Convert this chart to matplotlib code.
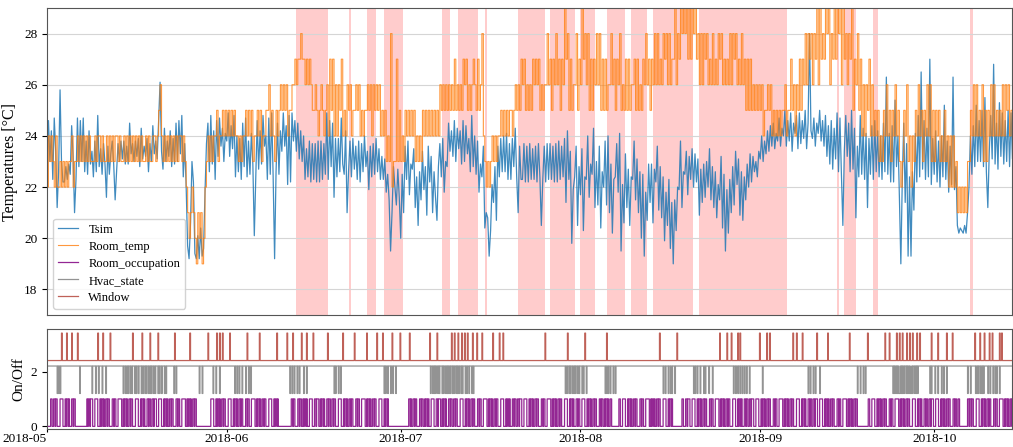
import numpy as np
import pandas as pd
import matplotlib
matplotlib.use("Agg")
import matplotlib.pyplot as plt
import matplotlib.dates as mdates

# simulated temperature, 4 readings per day (00h, 06h, 12h, 18h)
tsim_may = [
    22.8, 24.6, 23.0, 24.2, 22.3, 24.7, 23.4, 21.2, 22.6, 25.8, 23.0, 22.2, 22.2, 22.8, 22.3, 22.9,
    22.5, 24.4, 23.2, 21.0, 22.3, 24.7, 22.8, 24.6, 23.0, 24.7, 22.6, 23.8, 22.5, 24.2, 22.9, 23.4,
    22.4, 23.8, 22.6, 24.8, 22.8, 23.5, 22.5, 23.7, 22.9, 21.6, 23.6, 22.5, 23.3, 23.8, 22.9, 21.5,
    22.6, 23.7, 23.0, 23.8, 23.1, 23.8, 22.9, 23.6, 22.9, 24.5, 23.3, 23.7, 23.0, 23.8, 23.2, 23.9,
    22.8, 24.3, 23.1, 23.6, 23.2, 23.9, 22.6, 23.7, 23.0, 24.4, 23.3, 23.8, 23.1, 24.6, 26.1, 23.4,
    22.7, 24.3, 23.0, 23.8, 23.2, 24.2, 22.8, 23.9, 22.9, 24.5, 23.0, 24.6, 23.3, 24.8, 22.4, 23.7,
    22.0, 19.7, 19.2, 20.6, 23.0, 22.2, 19.4, 19.2, 20.1, 19.2, 20.4, 19.3, 19.6, 21.8, 23.7, 24.5,
    22.6, 24.8, 22.9, 24.2, 22.3, 24.6, 23.2, 24.7, 23.6, 24.3, 23.0, 24.1,
]
tsim_jun = [
    23.8, 24.9, 23.2, 24.4, 23.5, 24.8, 22.4, 24.0, 22.6, 23.9, 22.3, 24.5, 22.8, 24.7, 22.4, 23.8,
    22.5, 24.1, 22.9, 20.1, 22.4, 24.6, 22.7, 24.2, 22.9, 24.8, 23.6, 24.0, 22.3, 24.7, 22.5, 24.9,
    22.4, 19.2, 22.6, 24.5, 22.5, 24.2, 23.4, 24.9, 23.6, 24.4, 22.1, 24.8, 22.2, 24.9, 23.8, 24.6,
    23.4, 24.5, 23.1, 24.2, 23.0, 24.0, 22.3, 23.5, 22.4, 23.8, 22.2, 23.7, 22.3, 23.7, 22.2, 23.8,
    22.2, 23.8, 22.3, 23.7, 22.5, 24.9, 22.3, 24.6, 22.8, 24.5, 21.6, 23.9, 22.4, 23.9, 22.6, 24.7,
    22.9, 22.5, 24.2, 21.0, 22.6, 23.8, 22.4, 23.9, 22.7, 23.6, 22.3, 23.8, 22.2, 23.7, 22.6, 24.0,
    22.8, 23.4, 21.9, 23.6, 22.4, 23.7, 22.5, 23.9, 22.6, 23.5, 22.3, 23.2, 22.3, 23.1, 21.8, 22.5,
    21.5, 19.5, 21.0, 22.8, 22.0, 21.3, 22.7, 21.6,
]
tsim_jul = [
    20.0, 22.5, 21.0, 23.6, 22.3, 23.8, 21.7, 22.9, 22.7, 23.5, 21.2, 22.4, 20.5, 22.6, 21.5, 23.4,
    21.9, 22.8, 20.9, 23.6, 22.2, 23.2, 21.0, 22.6, 21.6, 20.7, 22.8, 23.7, 22.4, 23.9, 21.8, 23.0,
    22.8, 24.5, 23.4, 24.2, 23.2, 24.6, 23.0, 24.3, 23.5, 24.2, 22.9, 24.6, 23.0, 24.4, 23.3, 23.9,
    22.6, 24.8, 22.8, 24.0, 22.5, 23.8, 21.8, 22.9, 22.4, 23.6, 20.4, 21.0, 20.8, 19.3, 20.3, 22.1,
    21.4, 22.8, 20.7, 23.6, 22.4, 23.9, 22.6, 24.0, 22.6, 24.1, 22.3, 23.7, 22.3, 23.9, 22.8, 24.3,
    22.4, 21.0, 23.6, 22.3, 22.3, 23.7, 22.2, 23.6, 22.2, 23.7, 22.3, 23.5, 22.3, 23.6, 22.2, 23.7,
    22.4, 20.5, 22.3, 23.6, 22.2, 23.7, 22.3, 23.7, 22.3, 23.6, 22.2, 23.7, 22.2, 23.8, 22.3, 23.6,
    22.4, 23.9, 21.4, 24.2, 22.3, 23.4, 19.8, 21.9, 22.4, 23.6, 20.5, 22.8,
]
tsim_aug = [
    21.7, 23.5, 20.3, 22.4, 22.3, 24.0, 21.6, 22.9, 22.5, 24.3, 21.2, 23.0, 21.3, 23.6, 20.4, 22.6,
    22.0, 23.8, 21.3, 24.0, 21.0, 22.9, 20.2, 22.3, 22.4, 23.7, 21.8, 24.1, 19.5, 22.1, 20.6, 23.3,
    21.2, 22.7, 20.5, 22.4, 22.3, 23.8, 21.5, 23.1, 21.0, 22.6, 20.0, 22.5, 19.3, 21.8, 20.7, 22.9,
    21.4, 22.9, 20.6, 22.7, 22.2, 23.6, 21.1, 22.8, 20.8, 22.4, 19.9, 21.8, 20.5, 22.3, 19.6, 21.4,
    19.0, 21.5, 20.3, 22.0, 21.9, 23.8, 21.2, 22.6, 22.5, 23.4, 21.7, 23.2, 22.3, 23.5, 22.0, 23.3,
    22.2, 23.1, 20.9, 22.7, 21.4, 22.9, 21.6, 23.0, 22.0, 23.5, 21.5, 22.8, 21.2, 22.6, 20.8, 22.1,
    21.5, 23.2, 20.4, 22.5, 19.5, 21.9, 20.2, 22.3, 21.0, 22.8, 21.3, 23.4, 22.1, 23.1, 20.9, 22.6,
    20.7, 22.4, 21.5, 22.9, 22.0, 23.3, 22.2, 23.2, 22.6, 23.0, 22.4, 23.4,
]
tsim_sep = [
    23.1, 24.0, 23.0, 23.8, 23.3, 24.2, 23.4, 24.4, 23.6, 24.5, 23.5, 24.1, 23.8, 24.7, 23.6, 24.3,
    24.0, 25.0, 23.6, 24.6, 23.8, 24.9, 23.4, 24.5, 24.1, 24.8, 23.5, 24.9, 23.7, 24.6, 23.9, 25.0,
    23.5, 24.5, 28.0, 24.2, 23.9, 24.7, 23.6, 24.5, 24.1, 25.0, 23.8, 24.6, 23.6, 24.8, 23.2, 24.4,
    22.9, 24.6, 22.7, 24.3, 23.1, 24.9, 22.6, 24.7, 22.5, 20.5, 23.4, 24.8, 23.2, 24.5, 22.6, 25.0,
    22.7, 24.3, 20.8, 23.6, 22.4, 24.8, 22.5, 24.3, 22.3, 24.1, 21.2, 23.9, 22.5, 24.4, 22.3, 24.6,
    22.6, 24.2, 22.4, 24.0, 22.3, 24.5, 22.6, 26.3, 22.5, 24.1, 22.2, 24.4, 22.2, 25.4, 22.8, 24.0,
    21.6, 19.0, 22.3, 24.5, 21.4, 23.7, 19.3, 22.4, 19.3, 22.6, 21.1, 24.1, 22.2, 24.8, 22.4, 26.5,
    22.7, 24.6, 22.3, 24.3, 22.4, 27.0, 22.1, 23.9,
]
tsim_oct = [
    22.5, 24.2, 22.2, 23.8, 22.0, 24.0, 22.4, 25.2, 22.3, 23.8, 21.8, 23.6, 22.1, 26.3, 21.9, 22.8,
    20.5, 20.2, 20.4, 20.3, 20.2, 20.5, 20.2, 21.0, 22.0, 24.0, 22.5, 24.4, 22.8, 25.2, 23.0, 24.6,
    23.0, 25.0, 22.8, 25.5, 22.6, 21.2, 23.4, 24.8, 23.1, 26.8, 22.9, 24.5, 22.7, 25.3, 23.2, 24.9,
    22.9, 24.6, 23.0, 25.0, 22.8, 24.9, 23.1, 24.5,
]

# measured room temperature (whole degrees), same 6-hourly grid
room_may = [
    22, 24, 23, 24, 23, 22, 24, 22, 22, 23, 22, 23, 22, 23, 22, 23,
    23, 24, 22, 23, 23, 24, 23, 24, 23, 24, 23, 24, 23, 24, 23, 23,
    23, 24, 23, 24, 24, 23, 24, 23, 23, 24, 23, 24, 23, 24, 23, 24,
    24, 23, 24, 23, 23, 24, 23, 24, 23, 24, 23, 24, 23, 24, 23, 24,
    23, 24, 23, 23, 24, 23, 24, 23, 23, 24, 24, 23, 24, 25, 26, 24,
    23, 24, 23, 24, 23, 24, 23, 24, 23, 24, 23, 24, 24, 23, 24, 23,
    22, 21, 20, 21, 22, 21, 20, 19, 21, 20, 21, 19, 20, 22, 23, 24,
    23, 24, 23, 24, 24, 25, 23, 24, 24, 25, 24, 25,
]
room_jun = [
    24, 25, 24, 25, 24, 25, 24, 24, 23, 24, 23, 24, 24, 25, 24, 25,
    24, 25, 23, 24, 24, 25, 24, 25, 23, 24, 24, 25, 25, 26, 24, 25,
    24, 23, 25, 24, 25, 26, 25, 26, 25, 26, 24, 25, 25, 26, 26, 27,
    26, 27, 27, 28, 27, 27, 26, 27, 26, 27, 26, 25, 25, 26, 25, 24,
    25, 26, 25, 24, 25, 26, 24, 27, 25, 27, 24, 26, 24, 26, 25, 27,
    24, 25, 24, 26, 25, 26, 24, 25, 25, 26, 25, 26, 24, 25, 24, 25,
    25, 26, 25, 26, 24, 26, 25, 26, 25, 26, 24, 25, 24, 25, 23, 24,
    23, 28, 22, 23, 23, 27, 23, 25,
]
room_jul = [
    23, 24, 23, 25, 24, 25, 24, 25, 24, 25, 23, 24, 23, 24, 23, 25,
    24, 25, 24, 25, 24, 25, 24, 25, 24, 25, 24, 26, 25, 26, 25, 26,
    25, 26, 25, 26, 25, 27, 25, 26, 25, 26, 25, 27, 26, 27, 25, 26,
    25, 26, 27, 26, 25, 27, 25, 26, 28, 24, 23, 22, 23, 22, 23, 24,
    23, 24, 23, 24, 24, 25, 24, 25, 24, 25, 24, 25, 25, 24, 25, 26,
    25, 26, 25, 27, 26, 27, 25, 26, 25, 26, 25, 27, 26, 27, 26, 27,
    25, 26, 25, 26, 26, 28, 26, 27, 25, 27, 26, 28, 26, 27, 25, 27,
    26, 29, 27, 28, 25, 27, 25, 26, 26, 28, 25, 27,
]
room_aug = [
    26, 29, 27, 28, 26, 28, 25, 27, 25, 27, 26, 28, 26, 28, 25, 27,
    25, 27, 25, 26, 26, 28, 26, 27, 25, 27, 26, 28, 25, 26, 25, 27,
    25, 27, 25, 26, 26, 27, 25, 27, 25, 26, 25, 27, 26, 28, 26, 27,
    25, 27, 26, 28, 26, 28, 26, 27, 26, 28, 27, 28, 26, 28, 26, 27,
    27, 29, 26, 28, 27, 29, 28, 29, 28, 29, 27, 29, 27, 29, 28, 29,
    27, 28, 26, 28, 26, 28, 27, 28, 26, 27, 26, 28, 26, 27, 26, 28,
    27, 28, 26, 27, 26, 27, 26, 28, 26, 28, 27, 28, 26, 27, 26, 28,
    26, 27, 25, 27, 25, 27, 25, 26, 25, 26, 25, 26,
]
room_sep = [
    25, 26, 24, 25, 25, 26, 25, 26, 24, 25, 24, 25, 24, 25, 24, 25,
    25, 26, 24, 25, 25, 27, 25, 26, 24, 26, 25, 27, 25, 27, 26, 28,
    26, 28, 27, 28, 26, 28, 27, 29, 26, 29, 27, 28, 27, 29, 28, 29,
    26, 28, 27, 29, 27, 29, 28, 29, 26, 29, 27, 28, 26, 28, 27, 29,
    25, 27, 26, 28, 25, 27, 24, 26, 24, 26, 25, 27, 24, 26, 24, 25,
    24, 25, 23, 24, 23, 25, 24, 26, 24, 25, 23, 25, 24, 26, 24, 25,
    23, 22, 23, 25, 24, 26, 23, 24, 22, 24, 23, 25, 24, 26, 24, 25,
    23, 25, 24, 26, 24, 26, 23, 25,
]
room_oct = [
    23, 25, 24, 25, 23, 24, 23, 25, 23, 24, 22, 24, 22, 24, 22, 23,
    21, 22, 21, 22, 21, 22, 21, 23, 23, 25, 24, 26, 24, 26, 24, 25,
    24, 26, 23, 25, 23, 25, 24, 26, 24, 26, 24, 25, 24, 25, 24, 26,
    24, 26, 25, 26, 24, 25, 24, 26,
]

# room occupation, one string per day, one digit per 3 hours
occ_may = ["00000110", "01101100", "00111100", "01011010", "00110110", "00000000", "00000001",
           "01101110", "00111100", "01011010", "01101100", "00110110", "00111110", "01011010",
           "01101100", "00111100", "01011010", "00110110", "01101110", "00111100", "01011010",
           "01101100", "00110110", "00111110", "01011010", "01101100", "00000000", "00000000",
           "00111100", "01011010", "01101100"]
occ_jun = ["00111100", "01011010", "01101100", "00110110", "00111110", "01011010", "01101100",
           "00111100", "01011010", "00000000", "00000000", "01101100", "00110110", "01011010",
           "00111100", "01101110", "01011010", "00110110", "01101100", "00111100", "01011010",
           "01101100", "00110110", "00111110", "01011010", "01101100", "00111100", "01011010",
           "00000000", "00000000"]
occ_jul = ["00000000", "00011010", "01101100", "00110110", "01011010", "00111100", "01101110",
           "01011010", "00110110", "01101100", "00111100", "01011010", "01101100", "00110110",
           "00111110", "01011010", "01101100", "00111100", "01011010", "00110110", "01101110",
           "00111100", "01011010", "01101100", "00110110", "00111110", "01011010", "01101100",
           "00111100", "01011010", "00110110"]
occ_aug = ["00111100", "01011010", "01101100", "00110110", "01011010", "01100000", "00000110",
           "00111100", "01011010", "01101100", "00110110", "00111110", "01011010", "01101100",
           "00111100", "01011010", "00000000", "00001100", "01101110", "00111100", "01011010",
           "01101100", "00110110", "00111110", "01011010", "01101100", "00111100", "01011010",
           "00110110", "01101110", "00111100"]
occ_sep = ["01011010", "01101100", "00110110", "00111110", "01011010", "01101100", "00111100",
           "01011010", "00110110", "01101110", "00111100", "01011010", "01101100", "00110110",
           "00111110", "01011010", "01101100", "00000000", "00000110", "00111100", "01011010",
           "01101100", "00110110", "00111110", "01011010", "01101100", "00111100", "01011010",
           "00110110", "01101110"]
occ_oct = ["00111100", "01011010", "01101100", "00110110", "01100000", "00000011", "01101100",
           "00111100", "01011010", "01101100", "00110110", "00111110", "01011010", "01101100"]

# hvac state, same layout
FULL = "11111111"
hvac_may = [FULL, "11111101", "01011111", FULL, FULL, "11111011", FULL,
            "11111101", "11101110", "11110111", "10111111", FULL, FULL, "10110101",
            "01101011", "10101101", "11010110", "10110101", "01101011", "10101101", "11010111",
            "11111110", "11011111", FULL, FULL, FULL, "11011101", FULL,
            "11111011", "10111101", FULL]
hvac_jun = [FULL, "11101101", "10111011", "11011101", "10111111", FULL, FULL,
            FULL, FULL, FULL, "11111110", "11011011", "10110111", "11011101",
            FULL, FULL, FULL, FULL, "11110101", "11011011", FULL,
            FULL, FULL, FULL, FULL, FULL, FULL, "10101101",
            "11011011", "10111111"]
hvac_jul = ([FULL] * 5 + ["10110101", "01101011", "10101101", "01010110", "10110101",
                           "01101011", "10101101", "11010111"]
            + [FULL] * 15 + ["11101011", "01011010", "10110101"])
hvac_aug = (["11010111", "01111111", FULL, FULL, "11010101", "10111011", "01111111"]
            + [FULL] * 7 + ["11011011", "10110101", "11011111", FULL, FULL,
                            "11110101", "10111011", "11010111", "10111101", FULL, FULL, FULL,
                            "11101101", "10110110", "11011011", "10111111", FULL])
hvac_sep = (["11101111"] + [FULL] * 7 + ["11011011", "10110111", "11011111"] + [FULL] * 5
            + ["11111101", "11011101", "10111111", FULL, FULL, FULL,
               "11111110", "10101010", "01010101", "10101010", "01011010", "10111111",
               FULL, "11010111"])
hvac_oct = ["10111011", "11011011", "10111111", FULL, FULL, "11111101", "11011111",
            "10101011", "01010111", "11011011", "10110101", "11011111", FULL, FULL]

# window openings (month-day hour)
window_open = ["05-03 14", "05-04 11", "05-05 07", "05-06 08", "05-09 19", "05-10 16", "05-11 21",
               "05-15 20", "05-17 09", "05-18 18", "05-20 03", "05-23 02", "05-25 16", "05-28 18",
               "05-30 07", "05-30 20", "05-31 08", "06-01 13", "06-04 12", "06-06 17", "06-09 16",
               "06-11 09", "06-12 10", "06-13 23", "06-14 20", "06-15 21", "06-18 11", "06-21 01",
               "06-23 02", "06-25 04", "06-26 22", "06-27 22", "06-29 12", "06-30 21", "07-02 14",
               "07-06 01", "07-07 06", "07-09 20", "07-10 08", "07-10 21", "07-11 13", "07-12 02",
               "07-12 14", "07-13 11", "07-14 03", "07-15 00", "07-16 22", "07-18 02", "07-18 15",
               "07-25 21", "07-29 20", "08-01 18", "08-05 13", "08-14 17", "08-17 15", "08-25 01",
               "08-26 06", "08-27 02", "08-28 03", "08-28 12", "08-31 22", "09-02 03", "09-02 16",
               "09-06 15", "09-07 07", "09-08 08", "09-10 18", "09-12 16", "09-16 11", "09-19 13",
               "09-22 12", "09-23 07", "09-24 13", "09-25 02", "09-25 14", "09-26 07", "09-26 19",
               "09-27 07", "09-28 00", "09-28 12", "09-30 14", "10-01 15", "10-03 04", "10-04 05",
               "10-08 00", "10-08 21", "10-09 17", "10-10 14", "10-11 02", "10-12 07", "10-12 16"]

# shaded periods
window_spans = [("2018-06-12 22:00", "2018-06-18 11:00"), ("2018-06-22 02:00", "2018-06-22 10:00"),
                ("2018-06-25 04:00", "2018-06-26 17:00"), ("2018-06-28 02:00", "2018-07-01 09:00"),
                ("2018-07-08 02:00", "2018-07-09 12:00"), ("2018-07-10 21:00", "2018-07-14 07:00"),
                ("2018-07-15 12:00", "2018-07-15 21:00"), ("2018-07-21 05:00", "2018-07-25 21:00"),
                ("2018-07-26 17:00", "2018-07-31 00:00"), ("2018-07-31 22:00", "2018-08-03 12:00"),
                ("2018-08-05 14:00", "2018-08-08 16:00"), ("2018-08-09 16:00", "2018-08-12 10:00"),
                ("2018-08-13 12:00", "2018-08-20 09:00"), ("2018-08-21 10:00", "2018-09-05 14:00"),
                ("2018-09-14 05:00", "2018-09-14 13:00"), ("2018-09-15 10:00", "2018-09-17 12:00"),
                ("2018-09-20 10:00", "2018-09-21 07:00"), ("2018-10-07 03:00", "2018-10-07 16:00")]

month_ticks = ["2018-05-01", "2018-06-01", "2018-07-01", "2018-08-01", "2018-09-01", "2018-10-01"]

plt.rcParams['font.family'] = ['Liberation Serif', 'DejaVu Serif']
plt.rcParams['font.size'] = 9.5

start = pd.Timestamp("2018-05-01")
tsim = tsim_may + tsim_jun + tsim_jul + tsim_aug + tsim_sep + tsim_oct
room = room_may + room_jun + room_jul + room_aug + room_sep + room_oct
t6 = pd.date_range(start, periods=len(tsim), freq="6h")
t6r = pd.date_range(start, periods=len(room), freq="6h")

occ = np.array([int(c) for c in "".join(occ_may + occ_jun + occ_jul + occ_aug + occ_sep + occ_oct)])
hvac = np.array([int(c) for c in "".join(hvac_may + hvac_jun + hvac_jul + hvac_aug + hvac_sep + hvac_oct)])
t3 = pd.date_range(start, periods=len(occ), freq="3h")
t3h = pd.date_range(start, periods=len(hvac), freq="3h")

win = np.zeros(len(t3))
for s in window_open:
    k = int((pd.Timestamp("2018-" + s + ":00") - start) / pd.Timedelta("3h"))
    win[k] = 1

fig = plt.figure(figsize=(10.13, 4.47), dpi=100)
ax1 = fig.add_axes([0.0464, 0.2953, 0.9526, 0.6868])
ax2 = fig.add_axes([0.0464, 0.0400, 0.9526, 0.2240], sharex=ax1)

for a, b in window_spans:
    ax1.axvspan(pd.Timestamp(a), pd.Timestamp(b), color="red", alpha=0.2, lw=0, zorder=0)

l1, = ax1.plot(t6, tsim, color="#1f77b4", lw=0.9, alpha=0.85, label="Tsim")
l2, = ax1.plot(t6r, room, color="#ff7f0e", lw=0.8, alpha=0.8, drawstyle="steps-post", label="Room_temp")
l3, = ax2.plot(t3, occ, color="purple", lw=0.9, alpha=0.85, drawstyle="steps-post", label="Room_occupation")
l4, = ax2.plot(t3h, hvac + 1.2, color="grey", lw=0.9, alpha=0.85, drawstyle="steps-post", label="Hvac_state")
l5, = ax2.plot(t3, win + 2.4, color="#b03a2e", lw=0.9, alpha=0.8, drawstyle="steps-post", label="Window")

ax1.set_ylim(17, 29)
ax1.set_yticks([18, 20, 22, 24, 26, 28])
ax1.grid(axis="y", color="#d5d5d5", lw=0.8)
ax1.set_axisbelow(True)
ax1.set_ylabel("Temperatures [°C]", fontsize=11.5)
ax1.tick_params(axis="x", length=0, labelbottom=False)
ax1.legend(handles=[l1, l2, l3, l4, l5], loc="lower left", fontsize=9, handlelength=1.6,
           labelspacing=0.4, framealpha=0.85)

ax2.set_ylim(-0.1, 3.55)
ax2.set_yticks([0, 2])
ax2.set_ylabel("On/Off", fontsize=11)
ax2.set_xlim(start, pd.Timestamp("2018-10-14 10:00"))
ax2.set_xticks(pd.to_datetime(month_ticks))
ax2.xaxis.set_major_formatter(mdates.DateFormatter("%Y-%m"))
ax2.tick_params(axis="x", length=2.5, pad=0.5)
ax2.get_xticklabels()[0].set_ha("right")

for ax in (ax1, ax2):
    for sp in ax.spines.values():
        sp.set_color("#555555")

fig.savefig("out.png", dpi=100)
